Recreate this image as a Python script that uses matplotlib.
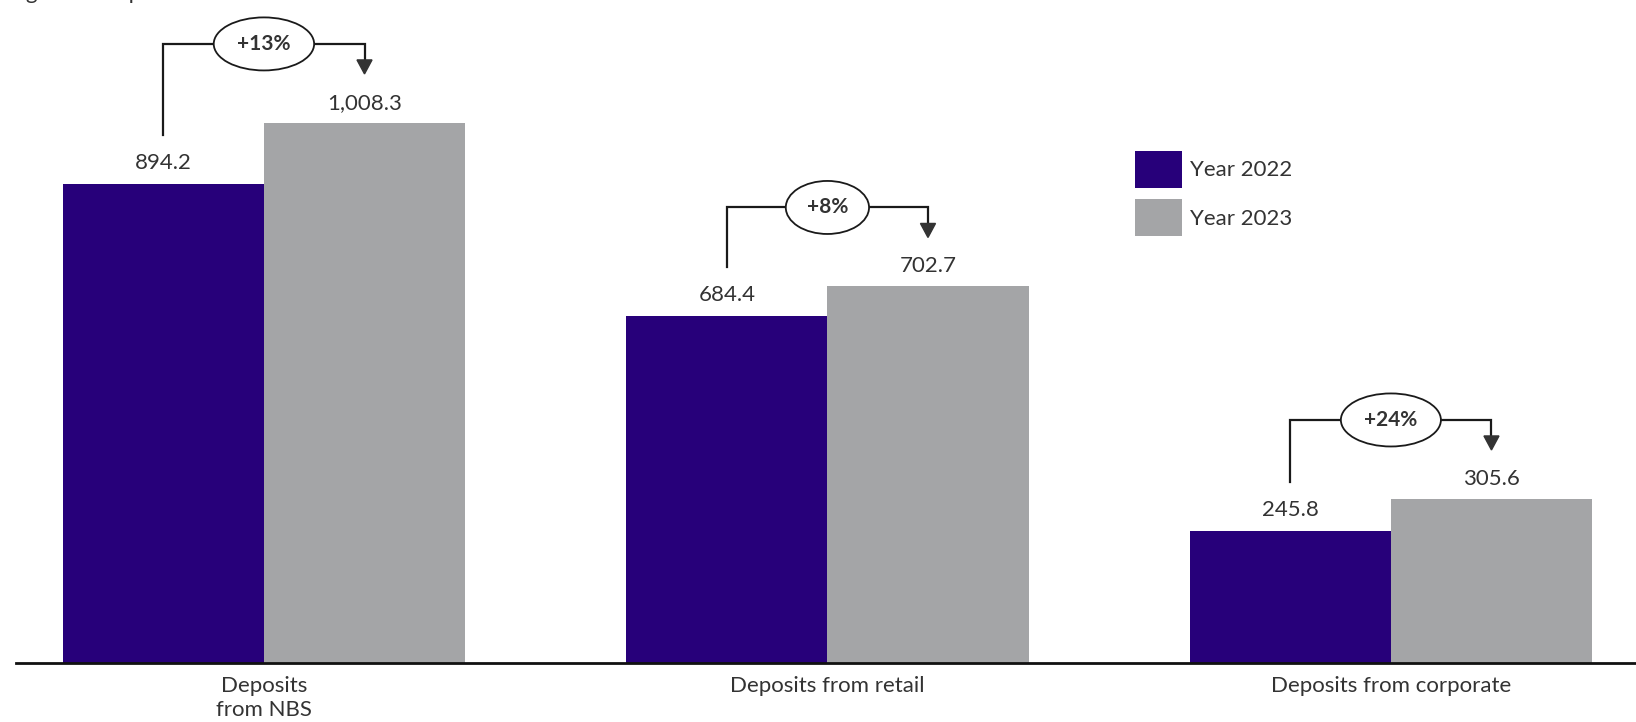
import matplotlib
matplotlib.use("Agg")
import matplotlib.pyplot as plt
from matplotlib.patches import Polygon
import numpy as np

plt.rcParams['font.family'] = ['Lato', 'DejaVu Sans']

categories = ["Deposits\nfrom NBS", "Deposits from retail", "Deposits from corporate"]
series_names = ["Year 2022", "Year 2023"]
values_2022 = [894.2, 648.4, 245.8]
values_2023 = [1008.3, 702.7, 305.6]
labels_2022 = ["894.2", "684.4", "245.8"]
labels_2023 = ["1,008.3", "702.7", "305.6"]
growth_labels = ["+13%", "+8%", "+24%"]
title = "Figure 1: Deposits structure"

c2022 = "#27007A"
c2023 = "#A4A5A7"
txt = "#333333"

W, H = 1636, 722
fig = plt.figure(figsize=(W / 100, H / 100), dpi=100)
ax_left, ax_bottom_px = 16, 662.5
ax = fig.add_axes([ax_left / W, (H - ax_bottom_px) / H, (W - ax_left) / W, ax_bottom_px / H])

x = np.arange(len(categories))
bw = 0.357
ax.bar(x - bw / 2, values_2022, bw, color=c2022, label=series_names[0], zorder=2)
ax.bar(x + bw / 2, values_2023, bw, color=c2023, label=series_names[1], zorder=2)

ax.set_xlim(-0.44, 2.435)
ymax = 1238
ax.set_ylim(0, ymax)
px = ymax / ax_bottom_px  # data units per pixel

for s in ["top", "right", "left"]:
    ax.spines[s].set_visible(False)
ax.spines["bottom"].set_linewidth(2)
ax.spines["bottom"].set_color("#111111")
ax.set_yticks([])
ax.set_xticks(x)
ax.set_xticklabels(categories, fontsize=16, color=txt, linespacing=1.2)
ax.tick_params(axis="x", length=0, pad=10)

for i in range(len(categories)):
    ax.text(x[i] - bw / 2, values_2022[i] + 21 * px, labels_2022[i], ha="center", va="center",
            fontsize=16, color=txt)
    ax.text(x[i] + bw / 2, values_2023[i] + 20 * px, labels_2023[i], ha="center", va="center",
            fontsize=16, color=txt)

    x0, x1 = x[i] - bw / 2, x[i] + bw / 2
    y0 = values_2022[i] + 49 * px
    ytip = values_2023[i] + 49 * px
    yh = max(values_2022[i], values_2023[i]) + 79 * px
    ax.plot([x0, x0, x1, x1], [y0, yh, yh, ytip + 12 * px], color="#1a1a1a", lw=1.6,
            solid_joinstyle="miter", zorder=3)
    hw = 7.5 / 563
    tri = Polygon([[x1 - hw, ytip + 14 * px], [x1 + hw, ytip + 14 * px], [x1, ytip]],
                  closed=True, color="#333333", zorder=4)
    ax.add_patch(tri)
    ax.text((x0 + x1) / 2, yh, growth_labels[i], ha="center", va="center", fontsize=15,
            fontweight="bold", color=txt, zorder=5,
            bbox=dict(boxstyle="ellipse,pad=0.42", fc="white", ec="#1a1a1a", lw=1.3))

leg = ax.legend(loc="upper left", bbox_to_anchor=((1126 - ax_left) / (W - ax_left), 1 - 142 / ax_bottom_px),
                frameon=False, fontsize=16, handlelength=2.1, handleheight=2.2,
                labelspacing=0.5, handletextpad=0.4, borderaxespad=0)
for t in leg.get_texts():
    t.set_color(txt)

fig.text(8 / W, 1 + 1 / H, title, ha="left", va="baseline", fontsize=16, color=txt)

fig.savefig("out.png", dpi=100)
